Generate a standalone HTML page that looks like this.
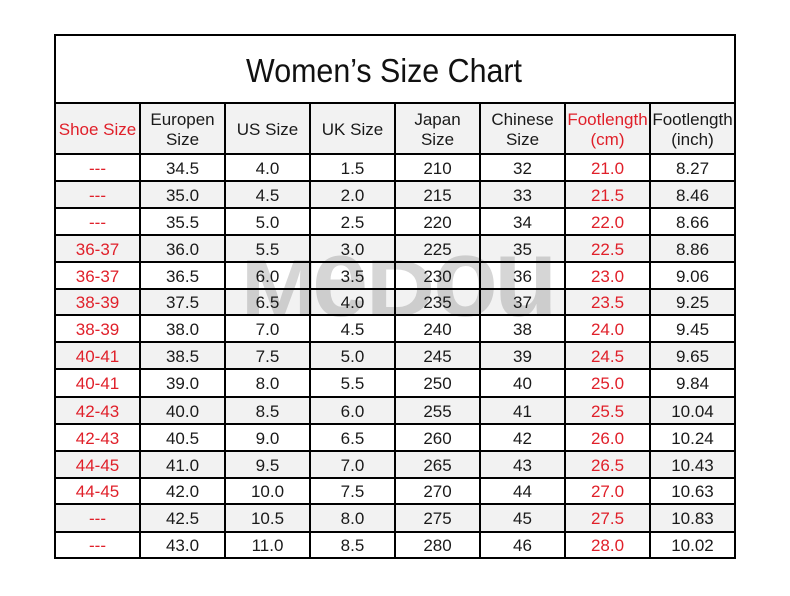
<!DOCTYPE html>
<html>
<head>
<meta charset="utf-8">
<style>
html,body{margin:0;padding:0;background:#fff;}
body{width:790px;height:596px;position:relative;overflow:hidden;font-family:"Liberation Sans",Arial,sans-serif;color:#1a1a1a;}
.bg{position:absolute;left:54px;width:682px;background:#f2f2f2;}
.h{position:absolute;left:54px;width:682px;height:2px;background:#000;}
.v{position:absolute;top:34px;width:2px;height:525px;background:#000;}
.row{position:absolute;left:55px;width:680px;display:flex;font-size:17px;}
.row span{display:block;width:85px;text-align:center;white-space:nowrap;}
.r{color:#e0202a;}
.hdr span{display:flex;align-items:center;justify-content:center;line-height:20px;height:49px;}
.title{position:absolute;left:83.5px;width:600px;top:54.4px;font-size:33px;line-height:33px;text-align:center;white-space:nowrap;transform:scaleX(0.921);transform-origin:center;color:#111;}
</style>
</head>
<body>
<!-- row backgrounds -->
<div class="bg" style="top:104px;height:49px"></div>
<div class="bg" style="top:182px;height:25px"></div>
<div class="bg" style="top:236px;height:25px"></div>
<div class="bg" style="top:290px;height:24px"></div>
<div class="bg" style="top:343px;height:25px"></div>
<div class="bg" style="top:398px;height:25px"></div>
<div class="bg" style="top:452px;height:25px"></div>
<div class="bg" style="top:505px;height:26px"></div>

<!-- watermark -->
<svg style="position:absolute;left:0;top:0" width="790" height="596">
<g fill="rgba(120,120,120,0.30)" font-family="Liberation Sans, Arial, sans-serif" font-weight="bold">
<text transform="translate(241,316) scale(1.14,1)" font-size="81">M</text>
<text transform="translate(312,316) scale(0.9,1)" font-size="112">e</text>
<text transform="translate(366,316) scale(1.18,1)" font-size="81">D</text>
<text transform="translate(433,316) scale(0.95,1)" font-size="112">o</text>
<text transform="translate(494,316) scale(0.93,1)" font-size="112">u</text>
</g>
</svg>

<!-- horizontal lines -->
<div class="h" style="top:34px"></div>
<div class="h" style="top:102px"></div>
<div class="h" style="top:153px"></div>
<div class="h" style="top:180px"></div>
<div class="h" style="top:207px"></div>
<div class="h" style="top:234px"></div>
<div class="h" style="top:261px"></div>
<div class="h" style="top:288px"></div>
<div class="h" style="top:314px"></div>
<div class="h" style="top:341px"></div>
<div class="h" style="top:368px"></div>
<div class="h" style="top:396px"></div>
<div class="h" style="top:423px"></div>
<div class="h" style="top:450px"></div>
<div class="h" style="top:477px"></div>
<div class="h" style="top:503px"></div>
<div class="h" style="top:531px"></div>
<div class="h" style="top:557px"></div>

<!-- vertical lines -->
<div class="v" style="left:54px"></div>
<div class="v" style="left:139px;top:102px;height:457px"></div>
<div class="v" style="left:224px;top:102px;height:457px"></div>
<div class="v" style="left:309px;top:102px;height:457px"></div>
<div class="v" style="left:394px;top:102px;height:457px"></div>
<div class="v" style="left:479px;top:102px;height:457px"></div>
<div class="v" style="left:564px;top:102px;height:457px"></div>
<div class="v" style="left:649px;top:102px;height:457px"></div>
<div class="v" style="left:734px"></div>

<div class="title">Women’s Size Chart</div>

<div class="row hdr" style="top:105px;height:49px">
<span class="r">Shoe Size</span><span>Europen<br>Size</span><span>US Size</span><span>UK Size</span><span>Japan<br>Size</span><span>Chinese<br>Size</span><span class="r">Footlength<br>(cm)</span><span>Footlength<br>(inch)</span>
</div>

<div class="row" style="top:156px;height:25px;line-height:25px"><span class="r">---</span><span>34.5</span><span>4.0</span><span>1.5</span><span>210</span><span>32</span><span class="r">21.0</span><span>8.27</span></div>
<div class="row" style="top:183px;height:25px;line-height:25px"><span class="r">---</span><span>35.0</span><span>4.5</span><span>2.0</span><span>215</span><span>33</span><span class="r">21.5</span><span>8.46</span></div>
<div class="row" style="top:210px;height:25px;line-height:25px"><span class="r">---</span><span>35.5</span><span>5.0</span><span>2.5</span><span>220</span><span>34</span><span class="r">22.0</span><span>8.66</span></div>
<div class="row" style="top:237px;height:25px;line-height:25px"><span class="r">36-37</span><span>36.0</span><span>5.5</span><span>3.0</span><span>225</span><span>35</span><span class="r">22.5</span><span>8.86</span></div>
<div class="row" style="top:264px;height:25px;line-height:25px"><span class="r">36-37</span><span>36.5</span><span>6.0</span><span>3.5</span><span>230</span><span>36</span><span class="r">23.0</span><span>9.06</span></div>
<div class="row" style="top:291px;height:24px;line-height:24px"><span class="r">38-39</span><span>37.5</span><span>6.5</span><span>4.0</span><span>235</span><span>37</span><span class="r">23.5</span><span>9.25</span></div>
<div class="row" style="top:317px;height:25px;line-height:25px"><span class="r">38-39</span><span>38.0</span><span>7.0</span><span>4.5</span><span>240</span><span>38</span><span class="r">24.0</span><span>9.45</span></div>
<div class="row" style="top:344px;height:25px;line-height:25px"><span class="r">40-41</span><span>38.5</span><span>7.5</span><span>5.0</span><span>245</span><span>39</span><span class="r">24.5</span><span>9.65</span></div>
<div class="row" style="top:371px;height:26px;line-height:26px"><span class="r">40-41</span><span>39.0</span><span>8.0</span><span>5.5</span><span>250</span><span>40</span><span class="r">25.0</span><span>9.84</span></div>
<div class="row" style="top:399px;height:25px;line-height:25px"><span class="r">42-43</span><span>40.0</span><span>8.5</span><span>6.0</span><span>255</span><span>41</span><span class="r">25.5</span><span>10.04</span></div>
<div class="row" style="top:426px;height:25px;line-height:25px"><span class="r">42-43</span><span>40.5</span><span>9.0</span><span>6.5</span><span>260</span><span>42</span><span class="r">26.0</span><span>10.24</span></div>
<div class="row" style="top:453px;height:25px;line-height:25px"><span class="r">44-45</span><span>41.0</span><span>9.5</span><span>7.0</span><span>265</span><span>43</span><span class="r">26.5</span><span>10.43</span></div>
<div class="row" style="top:480px;height:24px;line-height:24px"><span class="r">44-45</span><span>42.0</span><span>10.0</span><span>7.5</span><span>270</span><span>44</span><span class="r">27.0</span><span>10.63</span></div>
<div class="row" style="top:506px;height:26px;line-height:26px"><span class="r">---</span><span>42.5</span><span>10.5</span><span>8.0</span><span>275</span><span>45</span><span class="r">27.5</span><span>10.83</span></div>
<div class="row" style="top:534px;height:24px;line-height:24px"><span class="r">---</span><span>43.0</span><span>11.0</span><span>8.5</span><span>280</span><span>46</span><span class="r">28.0</span><span>10.02</span></div>
</body>
</html>
